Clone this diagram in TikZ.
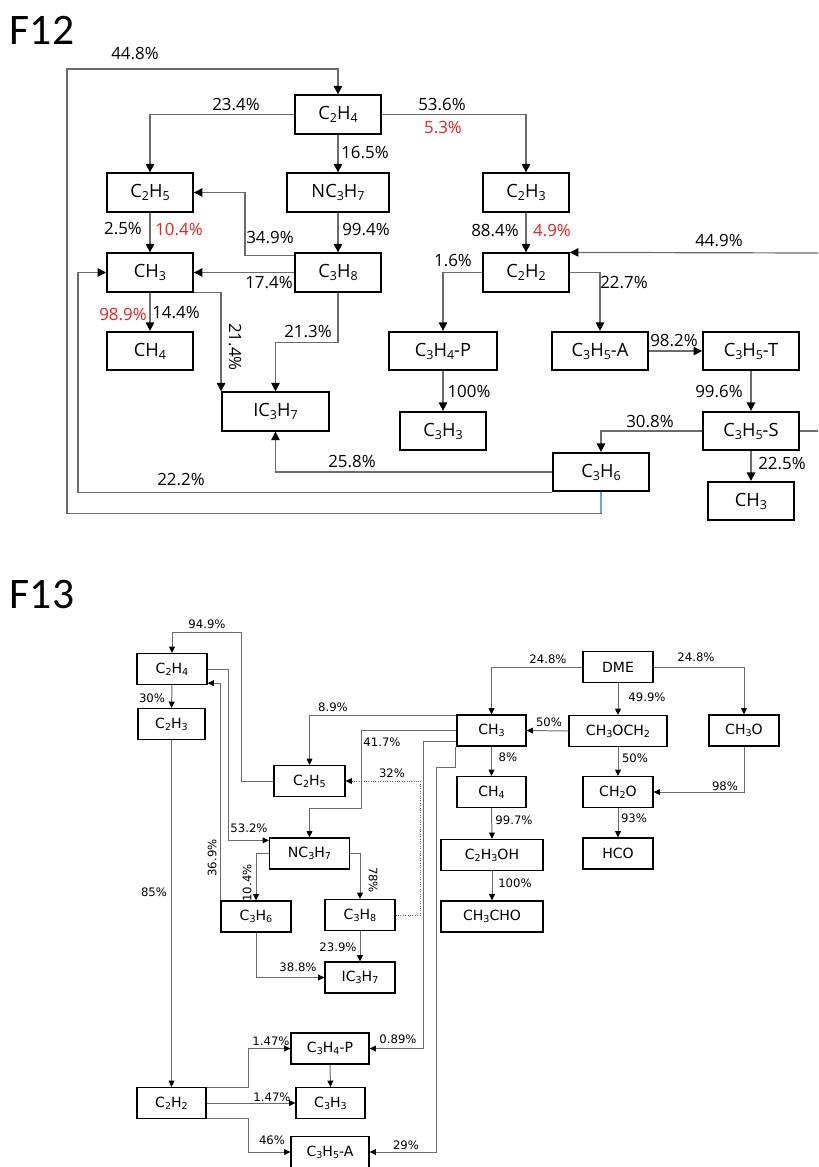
\documentclass[tikz,border=0pt]{standalone}
\usepackage{fontspec}
\usetikzlibrary{arrows.meta}
\newfontfamily\opensans{Open Sans}
\newfontfamily\dejavu{DejaVu Sans}
\newfontfamily\carlito{Carlito}
\newcommand{\lo}[1]{\raisebox{-0.3ex}{\scalebox{0.68}{#1}}}
\definecolor{wire}{gray}{0.42}
\definecolor{wireblue}{RGB}{95,165,225}
\definecolor{hot}{RGB}{240,30,30}

\begin{document}
\begin{tikzpicture}[x=0.025cm,y=-0.025cm,
  title/.style={inner sep=0pt,font=\carlito\fontsize{31}{34}\selectfont},
  boxa/.style={draw=black,line width=1.3pt,minimum height=0.96cm,inner sep=0pt,font=\opensans\fontsize{13}{15}\selectfont},
  boxb/.style={draw=black,line width=0.9pt,minimum height=0.775cm,inner sep=0pt,font=\dejavu\fontsize{10}{12}\selectfont},
  laba/.style={inner sep=0pt,font=\opensans\fontsize{12}{14}\selectfont},
  labb/.style={inner sep=0pt,font=\dejavu\fontsize{8.3}{10}\selectfont},
  linka/.style={draw=wire,line width=0.85pt,-{Triangle[length=6pt,width=6pt,color=black]}},
  linkb/.style={draw=wire,line width=0.7pt,-{Triangle[length=4.5pt,width=4.2pt,color=black]}}]
\useasboundingbox (0,0) rectangle (818,1167);

% F12
\node[title] (ta) at (42,30) {F12};
\node[boxa,minimum width=2.15cm] (C2H4a) at (338,114.5) {C\lo{2}H\lo{4}};
\node[boxa,minimum width=2.15cm] (C2H5a) at (150,192.5) {C\lo{2}H\lo{5}};
\node[boxa,minimum width=2.55cm] (NC3H7a) at (338,192.5) {NC\lo{3}H\lo{7}};
\node[boxa,minimum width=2.15cm] (C2H3a) at (526,192.5) {C\lo{2}H\lo{3}};
\node[boxa,minimum width=2.15cm] (CH3a) at (150,272.5) {CH\lo{3}};
\node[boxa,minimum width=2.15cm] (C3H8a) at (338,272.5) {C\lo{3}H\lo{8}};
\node[boxa,minimum width=2.15cm] (C2H2a) at (526,272.5) {C\lo{2}H\lo{2}};
\node[boxa,minimum width=2.15cm] (CH4a) at (150,351) {CH\lo{4}};
\node[boxa,minimum width=2.7cm] (C3H4Pa) at (443,351) {C\lo{3}H\lo{4}-P};
\node[boxa,minimum width=2.4cm] (C3H5Aa) at (600,351) {C\lo{3}H\lo{5}-A};
\node[boxa,minimum width=2.4cm] (C3H5Ta) at (751,351) {C\lo{3}H\lo{5}-T};
\node[boxa,minimum width=2.675cm] (IC3H7a) at (275.5,411.5) {IC\lo{3}H\lo{7}};
\node[boxa,minimum width=2.15cm] (C3H3a) at (443,431) {C\lo{3}H\lo{3}};
\node[boxa,minimum width=2.4cm] (C3H5Sa) at (751,431) {C\lo{3}H\lo{5}-S};
\node[boxa,minimum width=2.4cm] (C3H6a) at (601,472) {C\lo{3}H\lo{6}};
\node[boxa,minimum width=2.15cm] (CH3ba) at (751,501) {CH\lo{3}};
\coordinate (rima) at (818,431);
\coordinate (rimb) at (818,253);

\draw[linka] (C3H6a.south) -- ++(0,21) -| (67,69) -| (C2H4a.north);
\draw[draw=wireblue,line width=0.85pt] (C3H6a.south) -- ++(0,21);
\draw[linka] (C2H4a.west) -| (C2H5a.north);
\draw[linka] (C2H4a.south) -- (NC3H7a.north);
\draw[linka] (C2H4a.east) -| (C2H3a.north);
\draw[linka] (C2H5a.south) -- (CH3a.north);
\draw[linka] (NC3H7a.south) -- (C3H8a.north);
\draw[linka] ([shift={(0,3)}]C3H8a.north west) -- ++(-49,0) |- (C2H5a.east);
\draw[linka] (C3H8a.west) -- (CH3a.east);
\draw[linka] (C2H3a.south) -- (C2H2a.north);
\draw[linka] (CH3a.south) -- (CH4a.north);
\draw[linka] (CH3a.south east) -| (IC3H7a.north west);
\draw[linka] (C3H8a.south) -- ++(0,50) -| (IC3H7a.north);
\draw[linka] (C3H6a.west) -| (IC3H7a.south);
\draw[linka] (C3H6a.south west) -- ++(-474,0) |- (CH3a.west);
\draw[linka] (C2H2a.west) -| (C3H4Pa.north);
\draw[linka] (C2H2a.east) -| (C3H5Aa.north);
\draw[linka] (C3H4Pa.south) -- (C3H3a.north);
\draw[linka] (C3H5Aa.east) -- (C3H5Ta.west);
\draw[linka] (C3H5Ta.south) -- (C3H5Sa.north);
\draw[linka] (C3H5Sa.west) -| (C3H6a.north);
\draw[linka] (C3H5Sa.south) -- (CH3ba.north);
\draw[draw=wire,line width=0.85pt] (C3H5Sa.east) -- (rima);
\draw[linka] (rimb) -- (C2H2a.north east);

\node[laba] (pa448) at (135,54) {44.8\%};
\node[laba] (pa234) at (236,105) {23.4\%};
\node[laba] (pa165) at (365,153) {16.5\%};
\node[laba] (pa536) at (442,105) {53.6\%};
\node[laba,text=hot] (pa53) at (443,128) {5.3\%};
\node[laba] (pa25) at (123,229) {2.5\%};
\node[laba,text=hot] (pa104) at (179,229) {10.4\%};
\node[laba] (pa994) at (366,230) {99.4\%};
\node[laba] (pa349) at (270,238) {34.9\%};
\node[laba] (pa174) at (269,283) {17.4\%};
\node[laba] (pa884) at (495,231) {88.4\%};
\node[laba,text=hot] (pa49) at (552,231) {4.9\%};
\node[laba] (pa449) at (719,241) {44.9\%};
\node[laba,text=hot] (pa989) at (123,315) {98.9\%};
\node[laba] (pa144) at (176,313) {14.4\%};
\node[laba,rotate=-90] (pa214) at (235,347) {21.4\%};
\node[laba] (pa213) at (308,331) {21.3\%};
\node[laba] (pa16) at (453,261) {1.6\%};
\node[laba] (pa227) at (624,283) {22.7\%};
\node[laba] (pa100) at (469,391) {100\%};
\node[laba] (pa982) at (674,341) {98.2\%};
\node[laba] (pa996) at (719,391) {99.6\%};
\node[laba] (pa308) at (650,421) {30.8\%};
\node[laba] (pa225) at (782,464) {22.5\%};
\node[laba] (pa258) at (352,461) {25.8\%};
\node[laba] (pa222) at (181,479) {22.2\%};

% F13
\node[title] (tb) at (42,594) {F13};
\node[boxb,minimum width=1.75cm] (C2H4b) at (172,669) {C\lo{2}H\lo{4}};
\node[boxb,minimum width=1.675cm] (C2H3b) at (171.5,724) {C\lo{2}H\lo{3}};
\node[boxb,minimum width=1.75cm] (DMEb) at (618,667) {DME};
\node[boxb,minimum width=1.725cm] (CH3b) at (491.5,730.5) {CH\lo{3}};
\node[boxb,minimum width=2.45cm] (CH3OCH2b) at (618,731) {CH\lo{3}OCH\lo{2}};
\node[boxb,minimum width=1.75cm] (CH3Ob) at (744,730.5) {CH\lo{3}O};
\node[boxb,minimum width=1.775cm] (C2H5b) at (309.5,781) {C\lo{2}H\lo{5}};
\node[boxb,minimum width=1.725cm] (CH4b) at (491.5,792) {CH\lo{4}};
\node[boxb,minimum width=1.75cm] (CH2Ob) at (618,792) {CH\lo{2}O};
\node[boxb,minimum width=2cm] (NC3H7b) at (309.5,853.5) {NC\lo{3}H\lo{7}};
\node[boxb,minimum width=1.75cm] (HCOb) at (618,853.5) {HCO};
\node[boxb,minimum width=2.55cm] (C2H3OHb) at (492,855) {C\lo{2}H\lo{3}OH};
\node[boxb,minimum width=1.75cm] (C3H6b) at (256,916.5) {C\lo{3}H\lo{6}};
\node[boxb,minimum width=1.75cm] (C3H8b) at (360,915) {C\lo{3}H\lo{8}};
\node[boxb,minimum width=2.55cm] (CH3CHOb) at (492,916.5) {CH\lo{3}CHO};
\node[boxb,minimum width=1.75cm] (IC3H7b) at (360,977.5) {IC\lo{3}H\lo{7}};
\node[boxb,minimum width=1.95cm] (C3H4Pb) at (330,1048.5) {C\lo{3}H\lo{4}-P};
\node[boxb,minimum width=1.725cm] (C2H2b) at (171.5,1103) {C\lo{2}H\lo{2}};
\node[boxb,minimum width=1.725cm] (C3H3b) at (330.5,1103) {C\lo{3}H\lo{3}};
\node[boxb,minimum width=1.95cm] (C3H5Ab) at (330,1152) {C\lo{3}H\lo{5}-A};

\draw[linkb] (C2H5b.west) -| (241,632) -| (C2H4b.north);
\draw[linkb] (C2H4b.south) -- (C2H3b.north);
\draw[linkb] (C2H3b.south) -- (C2H2b.north);
\draw[linkb] (C2H4b.east) -- ++(21,0) |- ([shift={(0,3)}]NC3H7b.north west);
\draw[linkb] (C3H6b.north west) |- ([shift={(0,-2)}]C2H4b.south east);
\draw[linkb] (NC3H7b.west) -| (C3H6b.north);
\draw[linkb] (NC3H7b.east) -| (C3H8b.north);
\draw[linkb] (C3H8b.south) -- (IC3H7b.north);
\draw[linkb] (C3H6b.south) |- (IC3H7b.west);
\draw[linkb,densely dotted] (C3H8b.east) -- ++(25,0) |- (C2H5b.east);
\draw[linkb] ([shift={(0,1)}]CH3b.north west) -| (C2H5b.north);
\draw[linkb] (CH3b.west) -| (361,808) -| (NC3H7b.north);
\draw[linkb] ([shift={(0,11)}]CH3b.west) -| (423,1048.5) -- (C3H4Pb.east);
\draw[linkb] ([shift={(-1,0)}]CH3b.south west) |- (436,767) |- (C3H5Ab.east);
\draw[linkb] (DMEb.west) -| (CH3b.north);
\draw[linkb] (DMEb.east) -| (CH3Ob.north);
\draw[linkb] (DMEb.south) -- (CH3OCH2b.north);
\draw[linkb] (CH3OCH2b.west) -- (CH3b.east);
\draw[linkb] (CH3OCH2b.south) -- (CH2Ob.north);
\draw[linkb] (CH3Ob.south) |- (CH2Ob.east);
\draw[linkb] (CH2Ob.south) -- (HCOb.north);
\draw[linkb] (CH3b.south) -- (CH4b.north);
\draw[linkb] (CH4b.south) -- (C2H3OHb.north);
\draw[linkb] (C2H3OHb.south) -- (CH3CHOb.north);
\draw[linkb] ([shift={(0,1)}]C2H2b.north east) -- ++(42,0) |- (C3H4Pb.west);
\draw[linkb] (C2H2b.east) -- (C3H3b.west);
\draw[linkb] ([shift={(0,-1)}]C2H2b.south east) -- ++(42,0) |- (C3H5Ab.west);
\draw[linkb] (C3H4Pb.south) -- (C3H3b.north);

\node[labb] (pb949) at (207,624) {94.9\%};
\node[labb] (pb30) at (152,698) {30\%};
\node[labb] (pb85) at (154,892) {85\%};
\node[labb] (pb532) at (249,828) {53.2\%};
\node[labb,rotate=90] (pb369) at (212,858) {36.9\%};
\node[labb,rotate=90] (pb104) at (247,883) {10.4\%};
\node[labb,rotate=-90] (pb78) at (373,880) {78\%};
\node[labb] (pb239) at (338,947) {23.9\%};
\node[labb] (pb388) at (298,967) {38.8\%};
\node[labb] (pb32) at (392,773) {32\%};
\node[labb] (pb89) at (333,707) {8.9\%};
\node[labb] (pb417) at (382,742) {41.7\%};
\node[labb] (pb089) at (398,1039) {0.89\%};
\node[labb] (pb29) at (406,1145) {29\%};
\node[labb] (pb248a) at (548,659) {24.8\%};
\node[labb] (pb248b) at (696,657) {24.8\%};
\node[labb] (pb499) at (647,697) {49.9\%};
\node[labb] (pb50a) at (549,722) {50\%};
\node[labb] (pb50b) at (635,758) {50\%};
\node[labb] (pb98) at (725,786) {98\%};
\node[labb] (pb93) at (634,818) {93\%};
\node[labb] (pb8) at (508,757) {8\%};
\node[labb] (pb997) at (514,820) {99.7\%};
\node[labb] (pb100) at (515,883) {100\%};
\node[labb] (pb147a) at (271,1041) {1.47\%};
\node[labb] (pb147b) at (272,1097) {1.47\%};
\node[labb] (pb46) at (272,1140) {46\%};
\end{tikzpicture}
\end{document}
